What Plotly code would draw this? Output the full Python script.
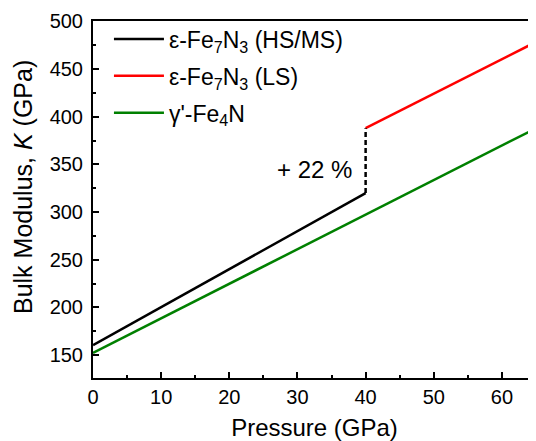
import plotly.graph_objects as go

# data
p_hs = [0, 40]
k_hs = [160.5, 320]
p_ls = [40, 65]
k_ls = [388, 478.5]
p_gam = [0, 65]
k_gam = [152.3, 388]
p_jump = [40, 40]
k_jump = [320, 388]

names = ["ε-Fe<sub>7</sub>N<sub>3</sub> (HS/MS)", "ε-Fe<sub>7</sub>N<sub>3</sub> (LS)", "γ'-Fe<sub>4</sub>N"]
colors = ["#000000", "#ff0000", "#008000"]
xticks = [0, 10, 20, 30, 40, 50, 60]
yticks = [150, 200, 250, 300, 350, 400, 450, 500]

font = "Liberation Sans, Arial, sans-serif"

fig = go.Figure()
fig.add_trace(go.Scatter(x=p_hs, y=k_hs, mode="lines", name=names[0], legendgroup="a",
                         line=dict(color=colors[0], width=2.5)))
fig.add_trace(go.Scatter(x=p_ls, y=k_ls, mode="lines", name=names[1], legendgroup="b",
                         line=dict(color=colors[1], width=2.5)))
fig.add_trace(go.Scatter(x=p_gam, y=k_gam, mode="lines", name=names[2], legendgroup="c",
                         line=dict(color=colors[2], width=2.5)))
fig.add_trace(go.Scatter(x=p_jump, y=k_jump, mode="lines", showlegend=False,
                         line=dict(color="#000000", width=2.5, dash="5px,3px")))

fig.add_annotation(x=32.5, y=345, text="+ 22 %", showarrow=False,
                   font=dict(size=24, color="black", family=font))

# y-axis title (placed as annotation to match the original offset)
fig.add_annotation(xref="paper", yref="paper", x=-0.158, y=0.535,
                   xanchor="center", yanchor="middle", textangle=-90,
                   text="Bulk Modulus, <i>K</i> (GPa)", showarrow=False,
                   font=dict(size=25, color="black", family=font))

fig.update_layout(
    width=528, height=433,
    margin=dict(l=85, r=0, t=13, b=63),
    plot_bgcolor="white", paper_bgcolor="white",
    font=dict(family=font, size=20, color="black"),
    showlegend=True,
    legend=dict(x=0.036, y=1.01, xanchor="left", yanchor="top",
                bgcolor="rgba(0,0,0,0)", font=dict(size=23),
                itemwidth=50, tracegroupgap=4),
    xaxis=dict(range=[0, 65], tickvals=xticks,
               ticks="inside", ticklen=6, tickwidth=1.5, tickcolor="black",
               minor=dict(ticks="inside", ticklen=3, tickwidth=1.5, dtick=5, tickcolor="black"),
               showline=True, linecolor="black", linewidth=2, mirror=True,
               showgrid=False, zeroline=False, ticklabelstandoff=0,
               title=dict(text="Pressure (GPa)", font=dict(size=24), standoff=15),
               tickfont=dict(size=20)),
    yaxis=dict(range=[126, 500.5], tickvals=yticks,
               ticks="inside", ticklen=6, tickwidth=1.5, tickcolor="black",
               minor=dict(ticks="inside", ticklen=3, tickwidth=1.5, dtick=25, tickcolor="black"),
               showline=True, linecolor="black", linewidth=2,
               showgrid=False, zeroline=False, ticklabelstandoff=4,
               tickfont=dict(size=20)),
)

fig.write_html("out.html")
